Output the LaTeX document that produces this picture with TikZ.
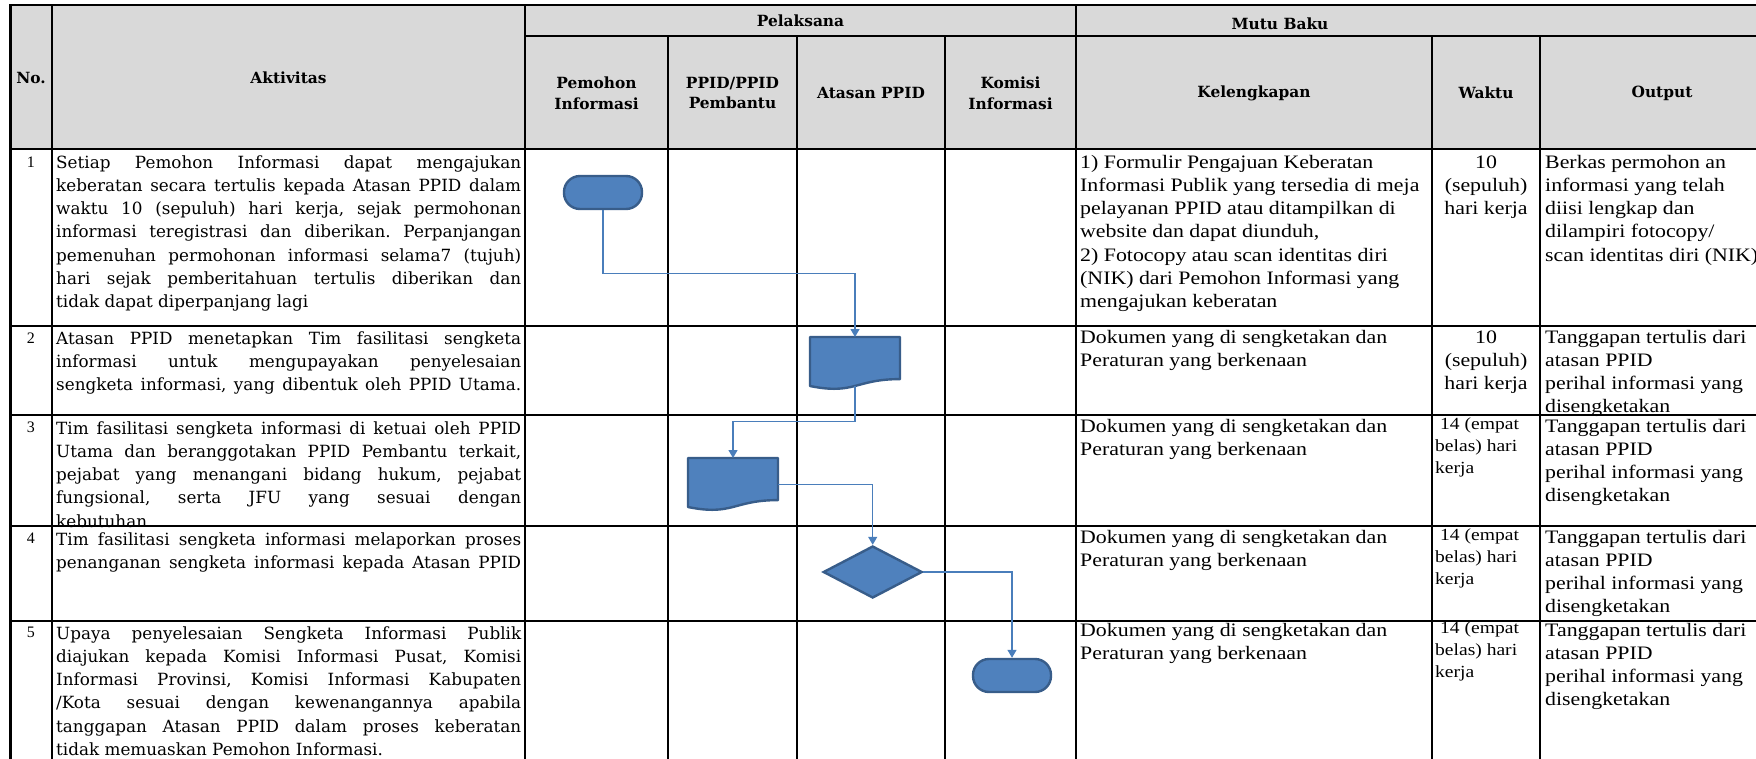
\documentclass[tikz,border=0pt]{standalone}
\usepackage{fontspec}
\usetikzlibrary{arrows.meta,shapes.geometric,calc}
\newfontfamily\aktfont{DejaVu Serif}
\newfontfamily\kelfont[FakeStretch=1.15]{Liberation Serif}
\newfontfamily\numfont{Liberation Serif}
\definecolor{hdrgray}{HTML}{D9D9D9}
\definecolor{shapefill}{HTML}{4F81BD}
\definecolor{shapeline}{HTML}{385D8A}
\definecolor{connblue}{HTML}{4A7EBB}
\newcommand{\jl}[2]{\makebox[#1][s]{#2}}
\newcommand{\fl}{\rule{0pt}{18pt}}
\newcommand{\hdrfont}{\aktfont\bfseries\fontsize{15.4pt}{20.7pt}\selectfont}
\newcommand{\aktsize}{\aktfont\fontsize{16.8pt}{23.2pt}\selectfont}
\newcommand{\kelsize}{\kelfont\fontsize{19pt}{23.2pt}\selectfont}
\newcommand{\wsmall}{\kelfont\fontsize{17pt}{22pt}\selectfont}
\newcommand{\numsize}{\numfont\fontsize{16pt}{20pt}\selectfont}
\frenchspacing
\begin{document}
\begin{tikzpicture}[x=1pt,y=-1pt,
  gridline/.style={line width=2.4pt, line cap=rect, black},
  hdr/.style={font=\hdrfont, align=center, inner sep=0pt},
  akt/.style={font=\aktsize, align=left, inner sep=0pt, anchor=north west},
  kel/.style={font=\kelsize, align=left, inner sep=0pt, anchor=north west},
  kelc/.style={font=\kelsize, align=center, inner sep=0pt, anchor=north},
  wsm/.style={font=\wsmall, align=left, inner sep=0pt, anchor=north west},
  num/.style={font=\numsize, inner sep=0pt, anchor=base},
  term/.style={draw=shapeline, fill=shapefill, line width=2.4pt, rounded corners=16pt, minimum width=78pt, minimum height=33pt, inner sep=0pt},
  dmd/.style={diamond, draw=shapeline, fill=shapefill, line width=2.4pt, minimum width=99pt, minimum height=52pt, inner sep=0pt},
  docbox/.style={minimum width=90pt, minimum height=52.5pt, inner sep=0pt, outer sep=0pt},
  docshape/.style={draw=shapeline, fill=shapefill, line width=2.4pt, line join=round},
  conn/.style={draw=connblue, line width=1.3pt, -{Triangle[width=9pt,length=8pt]}}
]
\useasboundingbox (0,0) rectangle (1756,758);
\clip (0,0) rectangle (1756,758);
\fill[white] (0,0) rectangle (1756,758);
% header background
\fill[hdrgray] (10.5,5) rectangle (1800,149);

% header texts
\node[hdr] (hno) at (31,78) {No.};
\node[hdr] (hakt) at (288.5,78) {Aktivitas};
\node[hdr] (hpel) at (800.5,21) {Pelaksana};
\node[hdr] (hmutu) at (1280,24) {Mutu Baku};
\node[hdr] (hpem) at (596.5,93) {Pemohon\\Informasi};
\node[hdr] (hppid) at (732.5,93) {PPID/PPID\\Pembantu};
\node[hdr] (hatas) at (871,93) {Atasan PPID};
\node[hdr] (hkom) at (1010.5,93) {Komisi\\Informasi};
\node[hdr] (hkel) at (1254,93) {Kelengkapan};
\node[hdr] (hwak) at (1486,93) {Waktu};
\node[hdr] (hout) at (1662,93) {Output};

% numbers
\node[num] (n1) at (31,167) {1};
\node[num] (n2) at (31,343) {2};
\node[num] (n3) at (31,432) {3};
\node[num] (n4) at (31,543) {4};
\node[num] (n5) at (31,637) {5};

% Aktivitas
\node[akt] (a1) at (56,150) {\fl\jl{465pt}{Setiap Pemohon Informasi dapat mengajukan}\\
\jl{465pt}{keberatan secara tertulis kepada Atasan PPID dalam}\\
\jl{465pt}{waktu 10 (sepuluh) hari kerja, sejak permohonan}\\
\jl{465pt}{informasi teregistrasi dan diberikan. Perpanjangan}\\
\jl{465pt}{pemenuhan permohonan informasi selama7 (tujuh)}\\
\jl{465pt}{hari sejak pemberitahuan tertulis diberikan dan}\\
tidak dapat diperpanjang lagi};
\node[akt] (a2) at (56,326) {\fl\jl{465pt}{Atasan PPID menetapkan Tim fasilitasi sengketa}\\
\jl{465pt}{informasi untuk mengupayakan penyelesaian}\\
\jl{465pt}{sengketa informasi, yang dibentuk oleh PPID Utama.}};
\node[akt] (a3) at (56,416) {\fl\jl{465pt}{Tim fasilitasi sengketa informasi di ketuai oleh PPID}\\
\jl{465pt}{Utama dan beranggotakan PPID Pembantu terkait,}\\
\jl{465pt}{pejabat yang menangani bidang hukum, pejabat}\\
\jl{465pt}{fungsional, serta JFU yang sesuai dengan}\\
kebutuhan};
\node[akt] (a4) at (56,527) {\fl\jl{465pt}{Tim fasilitasi sengketa informasi melaporkan proses}\\
\jl{465pt}{penanganan sengketa informasi kepada Atasan PPID}};
\node[akt] (a5) at (56,621) {\fl\jl{465pt}{Upaya penyelesaian Sengketa Informasi Publik}\\
\jl{465pt}{diajukan kepada Komisi Informasi Pusat, Komisi}\\
\jl{465pt}{Informasi Provinsi, Komisi Informasi Kabupaten}\\
\jl{465pt}{/Kota sesuai dengan kewenangannya apabila}\\
\jl{465pt}{tanggapan Atasan PPID dalam proses keberatan}\\
tidak memuaskan Pemohon Informasi.};

% Kelengkapan
\node[kel] (k1) at (1080,150) {\fl 1) Formulir Pengajuan Keberatan\\
Informasi Publik yang tersedia di meja\\
pelayanan PPID atau ditampilkan di\\
website dan dapat diunduh,\\
2) Fotocopy atau scan identitas diri\\
(NIK) dari Pemohon Informasi yang\\
mengajukan keberatan};
\node[kel] (k2) at (1080,325) {\fl Dokumen yang di sengketakan dan\\Peraturan yang berkenaan};
\node[kel] (k3) at (1080,414) {\fl Dokumen yang di sengketakan dan\\Peraturan yang berkenaan};
\node[kel] (k4) at (1080,525) {\fl Dokumen yang di sengketakan dan\\Peraturan yang berkenaan};
\node[kel] (k5) at (1080,618) {\fl Dokumen yang di sengketakan dan\\Peraturan yang berkenaan};

% Waktu
\node[kelc] (w1) at (1486,150) {\fl 10\\(sepuluh)\\hari kerja};
\node[kelc] (w2) at (1486,325) {\fl 10\\(sepuluh)\\hari kerja};
\node[wsm] (w3) at (1435,414) {\rule{0pt}{15pt}\hspace{5pt}14 (empat\\belas) hari\\kerja};
\node[wsm] (w4) at (1435,525) {\rule{0pt}{15pt}\hspace{5pt}14 (empat\\belas) hari\\kerja};
\node[wsm] (w5) at (1435,618) {\rule{0pt}{15pt}\hspace{5pt}14 (empat\\belas) hari\\kerja};

% Output
\node[kel] (o1) at (1545,150) {\fl Berkas permohon an\\
informasi yang telah\\
diisi lengkap dan\\
dilampiri fotocopy/\\
scan identitas diri (NIK)};
\node[kel] (o2) at (1545,325) {\fl Tanggapan tertulis dari\\atasan PPID\\perihal informasi yang\\disengketakan};
\node[kel] (o3) at (1545,414) {\fl Tanggapan tertulis dari\\atasan PPID\\perihal informasi yang\\disengketakan};
\node[kel] (o4) at (1545,525) {\fl Tanggapan tertulis dari\\atasan PPID\\perihal informasi yang\\disengketakan};
\node[kel] (o5) at (1545,618) {\fl Tanggapan tertulis dari\\atasan PPID\\perihal informasi yang\\disengketakan};

% grid lines
\draw[gridline] (10.5,5) -- (1800,5);
\draw[gridline] (525,36) -- (1800,36);
\foreach \yy in {149,326,415,526,621} {\draw[gridline] (10.5,\yy) -- (1800,\yy);}
\foreach \xx in {10.5,52,525,1076} {\draw[gridline] (\xx,5) -- (\xx,800);}
\foreach \xx in {668,797,945,1432,1540} {\draw[gridline] (\xx,36) -- (\xx,800);}

% flowchart shapes
\node[term] (t1) at (603,192.5) {};
\node[docbox] (d1) at (855,363.25) {};
\draw[docshape] (d1.north west) -- (d1.north east) -- ($(d1.north east)+(0,42.1)$)
  .. controls ($(d1.north)+(0,42.1)$) and ($(d1.north)+(0,58.1)$) .. ($(d1.north west)+(0,49)$) -- cycle;
\node[docbox] (d2) at (733,484.25) {};
\draw[docshape] (d2.north west) -- (d2.north east) -- ($(d2.north east)+(0,42.1)$)
  .. controls ($(d2.north)+(0,42.1)$) and ($(d2.north)+(0,58.1)$) .. ($(d2.north west)+(0,49)$) -- cycle;
\node[dmd] (dm) at (872.7,572) {};
\node[term] (t2) at (1012,675.5) {};

% connectors
\draw[conn] (t1.south) -- ++(0,63) -| (d1.north);
\draw[conn] ($(d1.north)+(0,49)$) -- ++(0,35.7) -| (d2.north);
\draw[conn] (d2.east) -| (dm.north);
\draw[conn] (dm.east) -| (t2.north);
\end{tikzpicture}
\end{document}
